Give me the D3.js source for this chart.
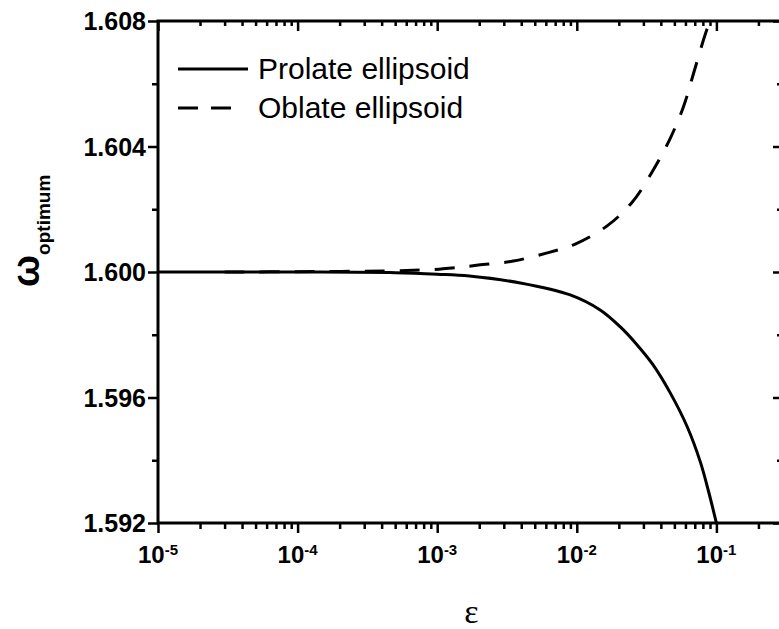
<!DOCTYPE html>
<html>
<head>
<meta charset="utf-8">
<script src="https://cdn.jsdelivr.net/npm/d3@7"></script>
<style>
  html, body { margin: 0; padding: 0; background: #fff; }
  svg { display: block; }
  text { font-family: "Liberation Sans", Arial, sans-serif; fill: #000; }
</style>
</head>
<body>
<svg id="chart" width="779" height="629"></svg>
<script>
// eccentricity values and optimum omega
const prolate_eps   = [1e-5, 1e-4, 5e-4, 1e-3, 1.7e-3, 3.94e-3, 8.97e-3, 1.47e-2, 2.05e-2, 2.63e-2, 3.48e-2, 4.68e-2, 6.19e-2, 7.68e-2, 8.77e-2, 0.1];
const prolate_omega = [1.6000, 1.6000, 1.59998, 1.59993, 1.59987, 1.59965, 1.59927, 1.59879, 1.59825, 1.59774, 1.59707, 1.59614, 1.59506, 1.59394, 1.59302, 1.5920];

const oblate_eps   = [3e-5, 1e-4, 5e-4, 1.1e-3, 1.97e-3, 3.51e-3, 6.15e-3, 9.75e-3, 1.65e-2, 2.5e-2, 3.53e-2, 4.68e-2, 5.8e-2, 6.84e-2, 8.07e-2, 8.95e-2];
const oblate_omega = [1.6000, 1.60001, 1.60004, 1.60010, 1.60022, 1.60035, 1.60061, 1.60089, 1.60147, 1.60223, 1.60325, 1.60427, 1.60526, 1.60631, 1.60739, 1.6080];

const x_major = [1e-5, 1e-4, 1e-3, 1e-2, 1e-1];
const x_exponents = ['-5', '-4', '-3', '-2', '-1'];
const y_major = [1.592, 1.596, 1.600, 1.604, 1.608];
const y_minor = [1.594, 1.598, 1.602, 1.606];
const legend_labels = ['Prolate ellipsoid', 'Oblate ellipsoid'];

const plot_left = 158, plot_right = 783, plot_top = 21, plot_bottom = 523;

const svg = d3.select('#chart');

const x = d3.scaleLog().domain([1e-5, 0.3]).range([plot_left, plot_right]);
const y = d3.scaleLinear().domain([1.592, 1.608]).range([plot_bottom, plot_top]);

// minor log ticks 2..9 in every decade
let x_minor = [];
x_major.forEach(d => {
    for (let k = 2; k <= 9; k++) {
        let v = d * k;
        if (v <= 0.3) x_minor.push(v);
    }
});

function style_axis(g) {
    g.select('.domain').remove();
    g.selectAll('line').attr('stroke', '#000').attr('stroke-width', 2.5);
}

// bottom ticks (outward)
svg.append('g').attr('transform', 'translate(0,' + plot_bottom + ')')
    .call(d3.axisBottom(x).tickValues(x_major).tickSize(10).tickFormat(''))
    .call(style_axis);
svg.append('g').attr('transform', 'translate(0,' + plot_bottom + ')')
    .call(d3.axisBottom(x).tickValues(x_minor).tickSize(6).tickFormat(''))
    .call(style_axis);
// top ticks (inward)
svg.append('g').attr('transform', 'translate(0,' + plot_top + ')')
    .call(d3.axisTop(x).tickValues(x_major).tickSize(-10).tickFormat(''))
    .call(style_axis);
svg.append('g').attr('transform', 'translate(0,' + plot_top + ')')
    .call(d3.axisTop(x).tickValues(x_minor).tickSize(-5).tickFormat(''))
    .call(style_axis);
// left ticks (outward)
svg.append('g').attr('transform', 'translate(' + plot_left + ',0)')
    .call(d3.axisLeft(y).tickValues(y_major).tickSize(10).tickFormat(''))
    .call(style_axis);
svg.append('g').attr('transform', 'translate(' + plot_left + ',0)')
    .call(d3.axisLeft(y).tickValues(y_minor).tickSize(6).tickFormat(''))
    .call(style_axis);
// right ticks (inward)
svg.append('g').attr('transform', 'translate(' + plot_right + ',0)')
    .call(d3.axisRight(y).tickValues(y_major).tickSize(-10).tickFormat(''))
    .call(style_axis);
svg.append('g').attr('transform', 'translate(' + plot_right + ',0)')
    .call(d3.axisRight(y).tickValues(y_minor).tickSize(-6).tickFormat(''))
    .call(style_axis);

// frame
svg.append('rect')
    .attr('x', plot_left).attr('y', plot_top)
    .attr('width', plot_right - plot_left).attr('height', plot_bottom - plot_top)
    .attr('fill', 'none').attr('stroke', '#000').attr('stroke-width', 3);

// y tick labels
svg.append('g').selectAll('text').data(y_major).join('text')
    .attr('x', plot_left - 12)
    .attr('y', d => y(d))
    .attr('dy', '0.36em')
    .attr('text-anchor', 'end')
    .style('font-size', '25px').style('font-weight', 'bold')
    .text(d => d3.format('.3f')(d));

// x tick labels 10^n
let xlab = svg.append('g').selectAll('text').data(x_major).join('text')
    .attr('x', d => x(d))
    .attr('y', 563)
    .attr('text-anchor', 'middle')
    .style('font-size', '24px').style('font-weight', 'bold');
xlab.append('tspan').text('10');
xlab.append('tspan').attr('dy', -8).style('font-size', '15px').text((d, i) => x_exponents[i]);

// clip for curves
svg.append('clipPath').attr('id', 'plot-clip')
    .append('rect').attr('x', plot_left).attr('y', plot_top)
    .attr('width', plot_right - plot_left).attr('height', plot_bottom - plot_top);

const line = d3.line().x(d => x(d[0])).y(d => y(d[1])).curve(d3.curveCatmullRom.alpha(0.5));

svg.append('path')
    .datum(d3.zip(prolate_eps, prolate_omega))
    .attr('clip-path', 'url(#plot-clip)')
    .attr('fill', 'none').attr('stroke', '#000').attr('stroke-width', 3)
    .attr('d', line);

svg.append('path')
    .datum(d3.zip(oblate_eps, oblate_omega))
    .attr('clip-path', 'url(#plot-clip)')
    .attr('fill', 'none').attr('stroke', '#000').attr('stroke-width', 3)
    .attr('stroke-dasharray', '20,15')
    .attr('d', line);

// legend
const legend = svg.append('g');
legend.append('line')
    .attr('x1', 178).attr('x2', 248).attr('y1', 69).attr('y2', 69)
    .attr('stroke', '#000').attr('stroke-width', 3);
legend.append('line')
    .attr('x1', 178).attr('x2', 231).attr('y1', 108).attr('y2', 108)
    .attr('stroke', '#000').attr('stroke-width', 3)
    .attr('stroke-dasharray', '20,13');
legend.selectAll('text.lg').data(legend_labels).join('text')
    .attr('class', 'lg')
    .attr('x', 258)
    .attr('y', (d, i) => 79 + i * 39)
    .style('font-size', '30px')
    .text(d => d);

// axis titles
svg.append('text')
    .attr('x', (plot_left + plot_right) / 2 + 1)
    .attr('y', 623)
    .attr('text-anchor', 'middle')
    .style('font-family', '"Liberation Serif", "Times New Roman", serif')
    .style('font-size', '34px')
    .text('ε');

let ytitle = svg.append('text')
    .attr('transform', 'translate(39,287) rotate(-90)')
    .style('font-weight', 'bold');
ytitle.append('tspan').style('font-size', '38px').text('ω');
ytitle.append('tspan').attr('dy', 11).style('font-size', '19px').text('optimum');
</script>
</body>
</html>
